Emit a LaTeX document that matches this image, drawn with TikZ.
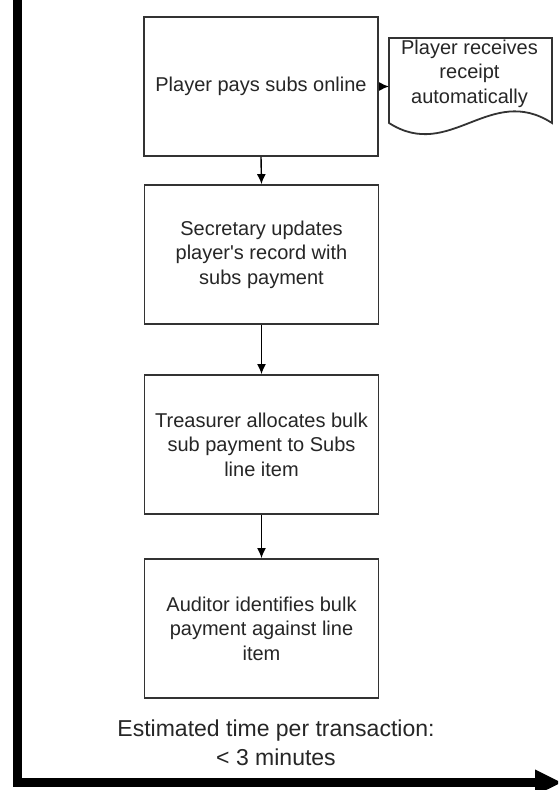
\documentclass[tikz,border=0pt]{standalone}
\usepackage{fontspec}
\newfontfamily\arialfont{Liberation Sans}
\usetikzlibrary{arrows.meta}
\definecolor{txt}{HTML}{262626}
\definecolor{edge}{HTML}{333333}
\tikzset{
  procbox/.style={draw=edge, line width=1.8pt, fill=white, minimum width=234pt, minimum height=139pt,
    align=center, text=txt, font=\arialfont\fontsize{20pt}{24.5pt}\selectfont, inner sep=0pt},
  doctext/.style={align=center, text=txt, font=\arialfont\fontsize{20pt}{24.5pt}\selectfont, inner sep=0pt},
  flow/.style={draw=black, line width=1.4pt, -{Latex[length=10pt,width=9pt]}},
  axis/.style={draw=black, line width=8.5pt, line join=miter},
  note/.style={align=center, text=txt, font=\arialfont\fontsize{23pt}{29pt}\selectfont, inner sep=0pt}
}
\begin{document}
\begin{tikzpicture}[x=1pt,y=-1pt]
\useasboundingbox (0,0) rectangle (558,790);
\clip (0,0) rectangle (558,790);
\fill[white] (0,0) rectangle (558,790);

% axis
\coordinate (axtop) at (17.5,-10);
\coordinate (axcorner) at (17.5,782.5);
\coordinate (axend) at (562,782.5);
\draw[axis, -{Triangle[length=27pt,width=24pt]}] (axtop) -- (axcorner) -- (axend);

% boxes
\node[procbox] (b1) at (261,86.5) {Player pays subs online};
\node[procbox] (b2) at (261.5,254.5) {Secretary updates\\player's record with\\subs payment};
\node[procbox] (b3) at (261.5,444.5) {Treasurer allocates bulk\\sub payment to Subs\\line item};
\node[procbox] (b4) at (261.5,628.5) {Auditor identifies bulk\\payment against line\\item};

% document shape
\draw[edge, line width=1.8pt, fill=white]
  (389,38) -- (389,123) .. controls (450,162) and (490,83) .. (552,123) -- (552,38) -- cycle;
\coordinate (docw) at (389,86.5);
\node[doctext] (doc) at (469.5,73.5) {Player receives\\receipt\\automatically};

% connectors
\draw[flow] (b1.east) -- (docw);
\draw[flow] (b1.south) -- (b2.north);
\draw[flow] (b2.south) -- (b3.north);
\draw[flow] (b3.south) -- (b4.north);

% note
\node[note] (est) at (276,742.5) {Estimated time per transaction:\\< 3 minutes};
\end{tikzpicture}
\end{document}
